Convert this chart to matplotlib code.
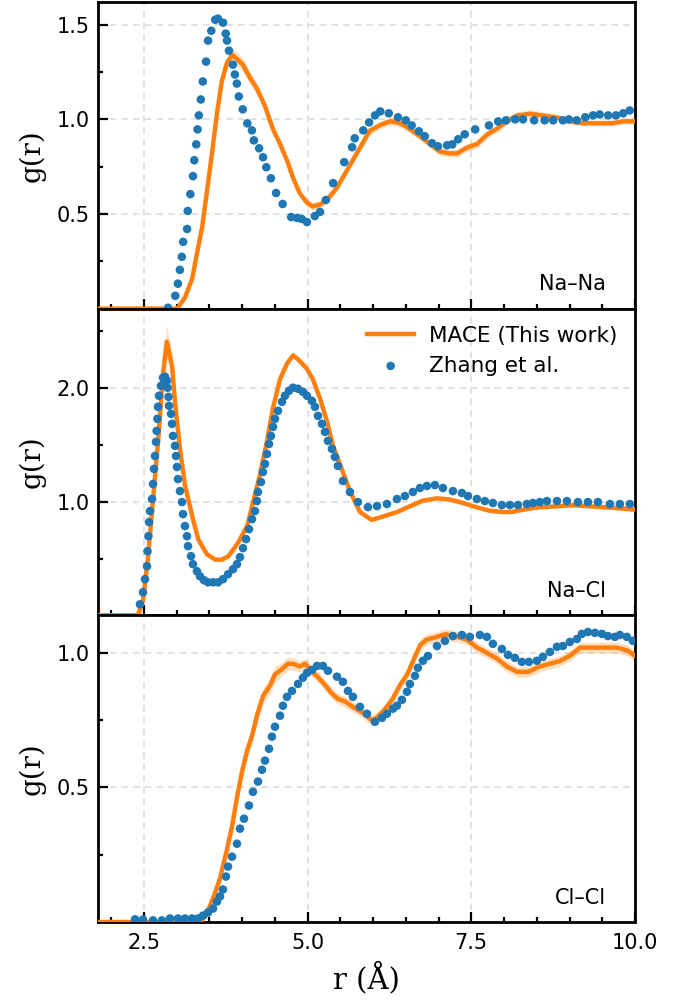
import numpy as np
import matplotlib
matplotlib.use("Agg")
import matplotlib.pyplot as plt
from matplotlib.ticker import MultipleLocator, FixedLocator, FormatStrFormatter

# ---------------- Na–Na ----------------
r_nana_mace = [1.80, 3.01, 3.13, 3.24, 3.31, 3.39, 3.46, 3.54, 3.62, 3.69, 3.77, 3.85, 3.92, 4.01,
               4.12, 4.23, 4.35, 4.47, 4.58, 4.69, 4.78, 4.88, 4.99, 5.08, 5.19, 5.31, 5.45, 5.65,
               5.80, 5.95, 6.11, 6.26, 6.41, 6.56, 6.72, 6.87, 7.02, 7.17, 7.28, 7.43, 7.59, 7.74,
               7.89, 8.04, 8.20, 8.40, 8.59, 8.81, 9.01, 9.21, 9.42, 9.66, 9.82, 10.0]
g_nana_mace = [0.0, 0.0, 0.06, 0.16, 0.29, 0.43, 0.61, 0.82, 1.04, 1.20, 1.30, 1.34, 1.32, 1.29,
               1.22, 1.16, 1.07, 0.95, 0.87, 0.78, 0.69, 0.61, 0.56, 0.54, 0.55, 0.58, 0.64, 0.76,
               0.85, 0.94, 0.97, 0.99, 0.98, 0.95, 0.91, 0.87, 0.83, 0.82, 0.82, 0.85, 0.87, 0.92,
               0.95, 0.99, 1.02, 1.03, 1.02, 1.01, 0.99, 0.98, 0.98, 0.98, 0.99, 0.99]
sd_nana_mace = [0.0, 0.0, 0.01, 0.015, 0.02, 0.02, 0.02, 0.025, 0.03, 0.03, 0.035, 0.035, 0.035, 0.035,
                0.03, 0.03, 0.025, 0.025, 0.02, 0.02, 0.02, 0.02, 0.02, 0.02, 0.02, 0.02, 0.02, 0.02,
                0.02, 0.02, 0.02, 0.02, 0.02, 0.02, 0.02, 0.02, 0.02, 0.02, 0.02, 0.02, 0.02, 0.02,
                0.02, 0.02, 0.02, 0.02, 0.02, 0.015, 0.015, 0.015, 0.015, 0.015, 0.015, 0.015]

r_nana_ref = [2.87, 2.98, 3.02, 3.05, 3.08, 3.10, 3.16, 3.17, 3.21, 3.25, 3.27, 3.30, 3.32, 3.34,
              3.37, 3.40, 3.45, 3.48, 3.53, 3.59, 3.63, 3.71, 3.75, 3.77, 3.80, 3.86, 3.89, 3.92,
              3.95, 4.01, 4.08, 4.15, 4.18, 4.26, 4.32, 4.37, 4.44, 4.52, 4.62, 4.75, 4.84, 4.91,
              4.99, 5.11, 5.19, 5.28, 5.39, 5.56, 5.68, 5.72, 5.85, 5.94, 6.03, 6.11, 6.24, 6.38,
              6.50, 6.59, 6.70, 6.79, 6.90, 6.99, 7.13, 7.21, 7.30, 7.40, 7.56, 7.77, 7.91, 8.03,
              8.17, 8.29, 8.46, 8.62, 8.75, 8.90, 8.99, 9.11, 9.24, 9.36, 9.46, 9.59, 9.71, 9.82, 9.92]
g_nana_ref = [0.005, 0.068, 0.132, 0.205, 0.274, 0.353, 0.421, 0.516, 0.605, 0.700, 0.784, 0.868,
              0.947, 1.021, 1.105, 1.200, 1.305, 1.416, 1.468, 1.526, 1.532, 1.511, 1.453, 1.416,
              1.363, 1.289, 1.237, 1.189, 1.121, 1.053, 0.979, 0.942, 0.889, 0.847, 0.800, 0.747,
              0.689, 0.611, 0.553, 0.484, 0.479, 0.474, 0.458, 0.489, 0.511, 0.574, 0.663, 0.774,
              0.853, 0.900, 0.942, 0.984, 1.021, 1.042, 1.032, 1.011, 0.995, 0.968, 0.937, 0.911,
              0.874, 0.858, 0.863, 0.868, 0.895, 0.921, 0.947, 0.968, 0.989, 0.995, 1.000, 1.000,
              0.995, 0.995, 0.995, 0.995, 1.000, 0.995, 1.011, 1.021, 1.026, 1.021, 1.021, 1.032, 1.047]

# ---------------- Na–Cl ----------------
r_nacl_mace = [1.80, 2.41, 2.49, 2.56, 2.64, 2.72, 2.79, 2.85, 2.93, 2.98, 3.05, 3.13, 3.24, 3.33,
               3.46, 3.59, 3.69, 3.79, 3.94, 4.08, 4.17, 4.27, 4.38, 4.47, 4.58, 4.69, 4.78, 4.88,
               4.99, 5.08, 5.19, 5.30, 5.39, 5.54, 5.65, 5.80, 5.98, 6.15, 6.37, 6.56, 6.76, 6.98,
               7.17, 7.37, 7.59, 7.79, 7.98, 8.12, 8.29, 8.50, 8.81, 9.05, 9.31, 9.57, 9.82, 10.0]
g_nacl_mace = [0.0, 0.0, 0.14, 0.49, 1.02, 1.55, 2.11, 2.41, 2.20, 1.85, 1.47, 1.14, 0.87, 0.67,
               0.54, 0.49, 0.49, 0.52, 0.64, 0.79, 1.00, 1.23, 1.53, 1.82, 2.08, 2.22, 2.29, 2.24,
               2.17, 2.08, 1.91, 1.70, 1.49, 1.26, 1.09, 0.91, 0.84, 0.87, 0.91, 0.96, 1.01, 1.03,
               1.02, 0.99, 0.95, 0.92, 0.91, 0.91, 0.93, 0.95, 0.96, 0.97, 0.96, 0.95, 0.94, 0.93]
sd_nacl_mace = [0.0, 0.0, 0.02, 0.03, 0.04, 0.06, 0.10, 0.15, 0.10, 0.05, 0.03, 0.02, 0.02, 0.02,
                0.015, 0.015, 0.015, 0.015, 0.015, 0.015, 0.015, 0.015, 0.02, 0.02, 0.02, 0.02, 0.02, 0.02,
                0.02, 0.02, 0.02, 0.015, 0.015, 0.015, 0.015, 0.015, 0.015, 0.015, 0.015, 0.015, 0.015, 0.015,
                0.015, 0.015, 0.015, 0.015, 0.015, 0.015, 0.015, 0.015, 0.015, 0.015, 0.015, 0.015, 0.015, 0.015]

r_nacl_ref = [2.441, 2.487, 2.518, 2.548, 2.556, 2.570, 2.579, 2.594, 2.624, 2.640, 2.655, 2.670,
              2.685, 2.695, 2.707, 2.716, 2.731, 2.762, 2.792, 2.823, 2.853, 2.862, 2.876, 2.884,
              2.915, 2.930, 2.945, 2.976, 2.991, 3.006, 3.021, 3.052, 3.082, 3.098, 3.128, 3.159,
              3.174, 3.220, 3.250, 3.311, 3.357, 3.418, 3.479, 3.556, 3.632, 3.708, 3.785, 3.861,
              3.922, 3.968, 4.014, 4.060, 4.105, 4.151, 4.197, 4.227, 4.243, 4.289, 4.319, 4.350,
              4.380, 4.411, 4.441, 4.472, 4.502, 4.548, 4.609, 4.655, 4.716, 4.777, 4.853, 4.930,
              4.991, 5.067, 5.113, 5.159, 5.220, 5.266, 5.311, 5.372, 5.418, 5.464, 5.540, 5.647,
              5.769, 5.922, 6.060, 6.212, 6.365, 6.487, 6.609, 6.716, 6.823, 6.945, 7.067, 7.220,
              7.357, 7.449, 7.586, 7.708, 7.830, 7.968, 8.090, 8.212, 8.350, 8.441, 8.548, 8.655,
              8.808, 8.960, 9.128, 9.281, 9.434, 9.617, 9.769, 9.922]
g_nacl_ref = [0.097, 0.203, 0.318, 0.432, 0.565, 0.697, 0.821, 0.918, 1.024, 1.156, 1.289, 1.403,
              1.527, 1.624, 1.730, 1.836, 1.933, 2.021, 2.092, 2.101, 2.065, 2.004, 1.924, 1.845,
              1.774, 1.686, 1.580, 1.492, 1.403, 1.306, 1.200, 1.094, 0.997, 0.891, 0.786, 0.697,
              0.609, 0.521, 0.450, 0.388, 0.344, 0.309, 0.291, 0.291, 0.291, 0.318, 0.362, 0.406,
              0.450, 0.512, 0.591, 0.671, 0.759, 0.847, 0.918, 1.006, 1.086, 1.174, 1.262, 1.333,
              1.421, 1.509, 1.580, 1.659, 1.730, 1.801, 1.880, 1.933, 1.977, 2.004, 1.995, 1.968,
              1.933, 1.889, 1.836, 1.756, 1.686, 1.615, 1.536, 1.465, 1.395, 1.315, 1.183, 1.086,
              0.997, 0.953, 0.962, 0.980, 1.024, 1.050, 1.086, 1.121, 1.139, 1.147, 1.121, 1.094,
              1.077, 1.050, 1.024, 1.006, 0.989, 0.971, 0.971, 0.971, 0.980, 0.989, 0.997, 1.006,
              1.006, 1.006, 0.997, 0.997, 0.997, 0.980, 0.980, 0.980]

# ---------------- Cl–Cl ----------------
r_clcl_mace = [1.80, 3.36, 3.43, 3.51, 3.59, 3.66, 3.77, 3.85, 3.92, 4.00, 4.08, 4.15, 4.23, 4.32,
               4.43, 4.50, 4.61, 4.70, 4.78, 4.88, 4.96, 5.07, 5.16, 5.27, 5.37, 5.46, 5.57, 5.69,
               5.83, 5.98, 6.06, 6.18, 6.30, 6.41, 6.52, 6.61, 6.72, 6.82, 6.98, 7.10, 7.28, 7.43,
               7.59, 7.74, 7.89, 8.04, 8.20, 8.37, 8.55, 8.70, 8.85, 9.01, 9.16, 9.36, 9.57, 9.72,
               9.88, 10.0]
g_clcl_mace = [0.0, 0.0, 0.02, 0.06, 0.11, 0.16, 0.27, 0.36, 0.46, 0.56, 0.64, 0.69, 0.77, 0.84,
               0.88, 0.92, 0.94, 0.96, 0.96, 0.95, 0.96, 0.93, 0.91, 0.88, 0.85, 0.83, 0.82, 0.80,
               0.78, 0.75, 0.76, 0.79, 0.83, 0.88, 0.92, 0.97, 1.03, 1.05, 1.06, 1.07, 1.06, 1.05,
               1.02, 1.00, 0.98, 0.95, 0.93, 0.93, 0.95, 0.96, 0.97, 0.99, 1.02, 1.02, 1.02, 1.02,
               1.01, 0.99]
sd_clcl_mace = [0.0, 0.0, 0.01, 0.015, 0.02, 0.025, 0.03, 0.03, 0.03, 0.03, 0.03, 0.03, 0.03, 0.03,
                0.03, 0.03, 0.025, 0.025, 0.025, 0.02, 0.02, 0.02, 0.02, 0.02, 0.02, 0.02, 0.02, 0.02,
                0.02, 0.02, 0.02, 0.02, 0.02, 0.02, 0.02, 0.02, 0.02, 0.02, 0.02, 0.02, 0.02, 0.02,
                0.02, 0.02, 0.02, 0.02, 0.02, 0.02, 0.02, 0.02, 0.02, 0.02, 0.02, 0.02, 0.02, 0.02,
                0.02, 0.02]

r_clcl_ref = [2.365, 2.487, 2.640, 2.777, 2.899, 3.021, 3.128, 3.235, 3.327, 3.403, 3.479, 3.556,
              3.617, 3.663, 3.708, 3.754, 3.785, 3.846, 3.922, 3.968, 4.029, 4.105, 4.166, 4.243,
              4.304, 4.350, 4.411, 4.456, 4.502, 4.579, 4.624, 4.685, 4.762, 4.853, 4.930, 4.991,
              5.067, 5.144, 5.235, 5.311, 5.449, 5.540, 5.617, 5.693, 5.800, 5.907, 6.029, 6.136,
              6.212, 6.304, 6.365, 6.441, 6.518, 6.563, 6.640, 6.685, 6.762, 6.838, 6.976, 7.098,
              7.220, 7.357, 7.479, 7.632, 7.739, 7.830, 7.968, 8.060, 8.166, 8.273, 8.380, 8.502,
              8.594, 8.701, 8.808, 8.899, 9.006, 9.113, 9.189, 9.281, 9.388, 9.495, 9.586, 9.693,
              9.769, 9.876, 9.968]
g_clcl_ref = [0.010, 0.009, 0.006, 0.006, 0.013, 0.013, 0.013, 0.013, 0.013, 0.024, 0.035, 0.050,
              0.076, 0.095, 0.121, 0.169, 0.206, 0.243, 0.291, 0.347, 0.384, 0.433, 0.484, 0.522,
              0.566, 0.600, 0.644, 0.689, 0.726, 0.767, 0.804, 0.837, 0.859, 0.885, 0.908, 0.926,
              0.937, 0.952, 0.952, 0.934, 0.912, 0.893, 0.859, 0.837, 0.800, 0.774, 0.744, 0.759,
              0.774, 0.793, 0.804, 0.826, 0.856, 0.885, 0.915, 0.945, 0.971, 0.989, 1.026, 1.045,
              1.063, 1.067, 1.060, 1.067, 1.060, 1.034, 1.015, 0.993, 0.982, 0.967, 0.967, 0.971,
              0.986, 1.004, 1.023, 1.026, 1.041, 1.052, 1.071, 1.078, 1.075, 1.071, 1.063, 1.060,
              1.067, 1.060, 1.045]

pair_names = ["Na–Na", "Na–Cl", "Cl–Cl"]
y_limits = [(0, 1.62), (0, 2.70), (0, 1.14)]
y_major = [[0.5, 1.0, 1.5], [1.0, 2.0], [0.5, 1.0]]
y_minor = [[0.25, 0.75, 1.25], [0.5, 1.5, 2.5], [0.25, 0.75]]
x_major = [2.5, 5.0, 7.5, 10.0]

panels = [
    (r_nana_mace, g_nana_mace, sd_nana_mace, r_nana_ref, g_nana_ref),
    (r_nacl_mace, g_nacl_mace, sd_nacl_mace, r_nacl_ref, g_nacl_ref),
    (r_clcl_mace, g_clcl_mace, sd_clcl_mace, r_clcl_ref, g_clcl_ref),
]

ORANGE = "#ff7f0e"
BLUE = "#1f77b4"
serif = "DejaVu Serif"

fig = plt.figure(figsize=(6.83, 10.0), dpi=100)
gs = fig.add_gridspec(3, 1, left=0.1435, right=0.9297, top=0.998, bottom=0.078, hspace=0.0)

axes = []
for i, (rm, gm, sdm, rz, gz) in enumerate(panels):
    ax = fig.add_subplot(gs[i], sharex=axes[0] if axes else None)
    axes.append(ax)
    rm = np.asarray(rm); gm = np.asarray(gm); sdm = np.asarray(sdm)
    ax.fill_between(rm, gm - sdm, gm + sdm, color=ORANGE, alpha=0.25, lw=0, zorder=2)
    ax.plot(rm, gm, color=ORANGE, lw=3.2, zorder=3, label="MACE (This work)",
            solid_joinstyle="round")
    ax.scatter(rz, gz, s=38, color=BLUE, edgecolors="none", zorder=4, label="Zhang et al.")

    ax.set_xlim(1.8, 10.0)
    ax.set_ylim(*y_limits[i])
    ax.yaxis.set_major_locator(FixedLocator(y_major[i]))
    ax.yaxis.set_minor_locator(FixedLocator(y_minor[i]))
    ax.xaxis.set_major_locator(FixedLocator(x_major))
    ax.xaxis.set_minor_locator(MultipleLocator(0.5))
    ax.grid(True, which="major", color="#dddddd", linestyle=(0, (4, 3)), lw=1.2, zorder=0)
    ax.set_axisbelow(True)

    for sp in ax.spines.values():
        sp.set_linewidth(2.0)
    ax.tick_params(which="both", direction="in", top=False, right=False, width=1.6)
    ax.tick_params(which="major", length=7)
    ax.tick_params(which="minor", length=3.5)
    ax.tick_params(axis="y", labelsize=15, pad=6)
    ax.tick_params(axis="x", labelsize=15, pad=8)
    ax.set_ylabel("g(r)", family=serif, fontsize=20, labelpad=8)
    ax.yaxis.set_major_formatter(FormatStrFormatter("%.1f"))

    ax.text(0.946, 0.06, pair_names[i], transform=ax.transAxes, ha="right",
            va="baseline", fontsize=15)

    if i < 2:
        plt.setp(ax.get_xticklabels(), visible=False)

axes[1].legend(loc="upper right", frameon=False, fontsize=15.5, handlelength=2.2,
               handletextpad=0.7, scatterpoints=1, borderaxespad=0.4, labelspacing=0.45)
axes[2].xaxis.set_major_formatter(FormatStrFormatter("%.1f"))
axes[2].set_xlabel("r (Å)", family=serif, fontsize=21, labelpad=6)

fig.savefig("out.png", dpi=100)
